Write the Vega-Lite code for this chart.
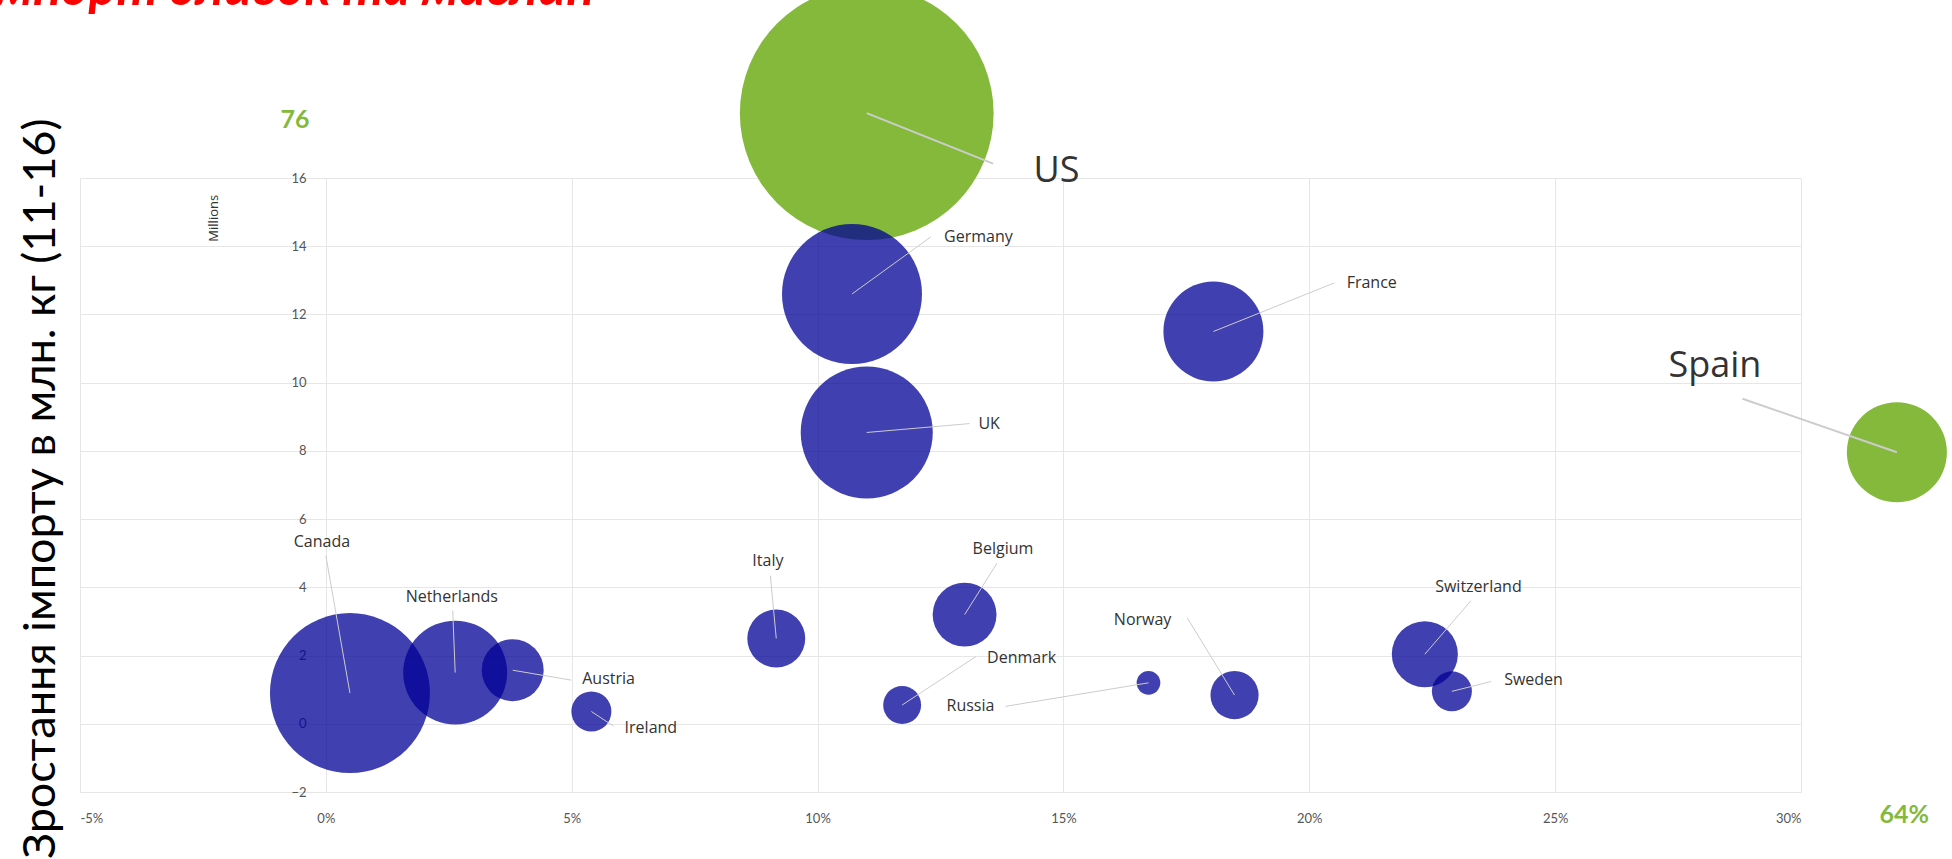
{
  "$schema": "https://vega.github.io/schema/vega-lite/v6.json",
  "autosize": {"type": "none"},
  "width": 1721,
  "height": 614,
  "padding": {"left": 80, "top": 178, "right": 151, "bottom": 67},
  "background": "white",
  "config": {"view": {"stroke": null}},
  "title": {
    "text": "Імпорт оливок та маслин",
    "orient": "top",
    "anchor": "start",
    "frame": "group",
    "offset": -71,
    "dx": -98,
    "baseline": "alphabetic",
    "font": "Lato",
    "fontSize": 52,
    "fontStyle": "italic",
    "fontWeight": "bold",
    "color": "#ff0000"
  },
  "datasets": {
    "countries": [
      {"country": "US", "group": "Top", "growth_pct": 11.0, "import_mln": 17.9, "actual_import_mln": 76, "volume": 161, "lx": 13.57, "ly": 16.42, "tx": 14.86, "ty": 16.2},
      {"country": "Germany", "group": "Other", "growth_pct": 10.7, "import_mln": 12.6, "volume": 49, "lx": 12.3, "ly": 14.27, "tx": 13.27, "ty": 14.27},
      {"country": "UK", "group": "Other", "growth_pct": 11.0, "import_mln": 8.54, "volume": 43.6, "lx": 13.09, "ly": 8.8, "tx": 13.49, "ty": 8.8},
      {"country": "France", "group": "Other", "growth_pct": 18.05, "import_mln": 11.5, "volume": 25, "lx": 20.5, "ly": 12.92, "tx": 21.27, "ty": 12.92},
      {"country": "Spain", "group": "Top", "growth_pct": 31.95, "actual_growth_pct": 64, "import_mln": 7.96, "volume": 25, "lx": 28.81, "ly": 9.53, "tx": 28.25, "ty": 10.5},
      {"country": "Canada", "group": "Other", "growth_pct": 0.49, "import_mln": 0.9, "volume": 64, "lx": 0.0, "ly": 4.93, "tx": -0.08, "ty": 5.33},
      {"country": "Netherlands", "group": "Other", "growth_pct": 2.63, "import_mln": 1.5, "volume": 27, "lx": 2.58, "ly": 3.32, "tx": 2.56, "ty": 3.72},
      {"country": "Austria", "group": "Other", "growth_pct": 3.8, "import_mln": 1.57, "volume": 9.6, "lx": 4.99, "ly": 1.28, "tx": 5.75, "ty": 1.31},
      {"country": "Ireland", "group": "Other", "growth_pct": 5.4, "import_mln": 0.36, "volume": 4, "lx": 5.85, "ly": -0.07, "tx": 6.61, "ty": -0.11},
      {"country": "Italy", "group": "Other", "growth_pct": 9.16, "import_mln": 2.5, "volume": 8.4, "lx": 9.04, "ly": 4.34, "tx": 8.99, "ty": 4.78},
      {"country": "Belgium", "group": "Other", "growth_pct": 12.99, "import_mln": 3.2, "volume": 10.2, "lx": 13.65, "ly": 4.71, "tx": 13.77, "ty": 5.11},
      {"country": "Denmark", "group": "Other", "growth_pct": 11.72, "import_mln": 0.55, "volume": 3.6, "lx": 13.22, "ly": 1.97, "tx": 14.15, "ty": 1.93},
      {"country": "Russia", "group": "Other", "growth_pct": 16.73, "import_mln": 1.2, "volume": 1.4, "lx": 13.82, "ly": 0.51, "tx": 13.11, "ty": 0.51},
      {"country": "Norway", "group": "Other", "growth_pct": 18.48, "import_mln": 0.84, "volume": 5.8, "lx": 17.52, "ly": 3.1, "tx": 16.61, "ty": 3.03},
      {"country": "Switzerland", "group": "Other", "growth_pct": 22.35, "import_mln": 2.04, "volume": 10.9, "lx": 23.29, "ly": 3.61, "tx": 23.44, "ty": 4.01},
      {"country": "Sweden", "group": "Other", "growth_pct": 22.9, "import_mln": 0.95, "volume": 4, "lx": 23.7, "ly": 1.24, "tx": 24.56, "ty": 1.28}
    ],
    "notes": [
      {"kind": "unit", "text": "Millions", "growth_pct": -2.28, "import_mln": 14.82},
      {"kind": "break", "text": "76", "growth_pct": -0.63, "import_mln": 17.7},
      {"kind": "break", "text": "64%", "growth_pct": 32.1, "import_mln": -2.66}
    ]
  },
  "encoding": {
    "x": {
      "field": "growth_pct",
      "type": "quantitative",
      "scale": {"domain": [-5, 30], "nice": false, "zero": false},
      "axis": {
        "title": null,
        "values": [-5, 0, 5, 10, 15, 20, 25, 30],
        "labelExpr": "datum.value + '%'",
        "grid": true,
        "gridColor": "#e6e6e6",
        "domain": false,
        "ticks": false,
        "labelPadding": 20,
        "labelFont": "Lato",
        "labelFontSize": 13,
        "labelColor": "#555555"
      }
    },
    "y": {
      "field": "import_mln",
      "type": "quantitative",
      "scale": {"domain": [-2, 16], "nice": false, "zero": false},
      "axis": {
        "title": "Зростання  імпорту в млн. кг  (11-16)",
        "titleFont": "Lato",
        "titleFontSize": 45,
        "titleFontWeight": "normal",
        "titleColor": "#000000",
        "titleAngle": 270,
        "titleX": -26,
        "titleY": -60,
        "titleAlign": "right",
        "titleBaseline": "alphabetic",
        "values": [-2, 0, 2, 4, 6, 8, 10, 12, 14, 16],
        "grid": true,
        "gridColor": "#e6e6e6",
        "domain": false,
        "ticks": false,
        "labelPadding": -226,
        "labelFont": "Lato",
        "labelFontSize": 13,
        "labelColor": "#555555"
      }
    }
  },
  "layer": [
    {
      "data": {"name": "countries"},
      "mark": {"type": "circle"},
      "encoding": {
        "size": {"field": "volume", "type": "quantitative", "scale": {"type": "linear", "domain": [0, 200], "range": [0, 80000]}, "legend": null},
        "color": {"field": "group", "type": "nominal", "scale": {"domain": ["Top", "Other"], "range": ["#84b93b", "#000095"]}, "legend": null},
        "opacity": {"field": "group", "type": "nominal", "scale": {"domain": ["Top", "Other"], "range": [1, 0.75]}, "legend": null}
      }
    },
    {
      "data": {"name": "countries"},
      "mark": {"type": "rule", "color": "#cccccc"},
      "encoding": {
        "x2": {"field": "lx"},
        "y2": {"field": "ly"},
        "strokeWidth": {"field": "group", "type": "nominal", "scale": {"domain": ["Top", "Other"], "range": [2, 1]}, "legend": null}
      }
    },
    {
      "data": {"name": "countries"},
      "mark": {"type": "text", "font": "Open Sans", "color": "#333333", "baseline": "middle", "align": "center"},
      "encoding": {
        "x": {"field": "tx", "type": "quantitative"},
        "y": {"field": "ty", "type": "quantitative"},
        "text": {"field": "country"},
        "size": {"field": "group", "type": "nominal", "scale": {"domain": ["Top", "Other"], "range": [36, 16]}, "legend": null}
      }
    },
    {
      "data": {"name": "notes"},
      "transform": [{"filter": "datum.kind === 'unit'"}],
      "mark": {"type": "text", "font": "Open Sans", "fontSize": 13, "color": "#333333", "angle": 270, "baseline": "middle", "align": "center"},
      "encoding": {"text": {"field": "text"}}
    },
    {
      "data": {"name": "notes"},
      "transform": [{"filter": "datum.kind === 'break'"}],
      "mark": {"type": "text", "font": "Lato", "fontSize": 25, "fontWeight": "bold", "color": "#84b93b", "baseline": "middle", "align": "center"},
      "encoding": {"text": {"field": "text"}}
    }
  ]
}
